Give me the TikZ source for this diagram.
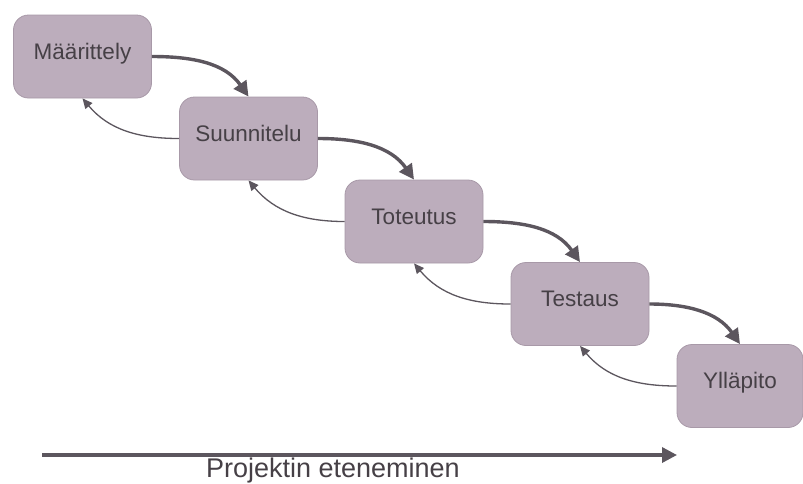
\documentclass[tikz,border=0pt]{standalone}
\usepackage{fontspec}
\setmainfont{Liberation Sans}
\usetikzlibrary{arrows.meta}
\definecolor{boxfill}{RGB}{188,173,188}
\definecolor{boxline}{RGB}{168,153,168}
\definecolor{txt}{RGB}{70,64,70}
\definecolor{arr}{RGB}{92,86,94}
\begin{document}
\begin{tikzpicture}[x=1pt,y=1pt,
  phase/.style={draw=boxline,line width=0.8pt,fill=boxfill,rounded corners=15pt,
    minimum width=138pt,minimum height=83pt,inner sep=0pt,text=txt,
    font=\fontsize{22.5}{26}\selectfont,text height=0.75em,text depth=0.25em},
  fwd/.style={draw=arr,line width=3.4pt,-{Triangle[length=15pt,width=15pt]}},
  back/.style={draw=arr,line width=1.3pt,-{Triangle[length=10pt,width=9pt]}},
  prog/.style={draw=arr,line width=3.4pt,-{Triangle[length=15pt,width=15pt]}}]
\useasboundingbox (0,0) rectangle (803,-483);
\node[phase] (b1) at (82.5,-56.5) {Määrittely};
\node[phase] (b2) at (248.5,-138.5) {Suunnitelu};
\node[phase] (b3) at (414,-221.5) {Toteutus};
\node[phase] (b4) at (580,-304) {Testaus};
\node[phase,minimum width=126pt] (b5) at (740,-386) {Ylläpito};
\foreach \a/\b in {b1/b2,b2/b3,b3/b4,b4/b5}{
  \draw[fwd] (\a.east) to[out=0,in=125] (\b.north);
  \draw[back] (\b.west) to[out=180,in=-50] (\a.south);
}
\coordinate (ps) at (42,-455);
\coordinate (pe) at (677,-455);
\draw[prog] (ps) -- (pe);
\node[text=txt,font=\fontsize{27}{30}\selectfont,anchor=base] (lbl) at (333,-477) {Projektin eteneminen};
\end{tikzpicture}
\end{document}
